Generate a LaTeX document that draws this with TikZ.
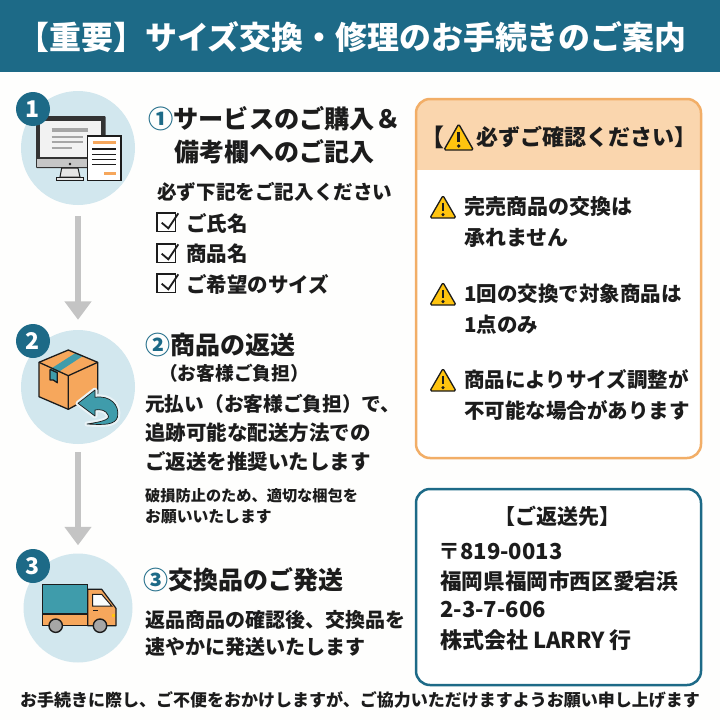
\documentclass[tikz,border=0pt]{standalone}
\usepackage{fontspec}
\setmainfont{Noto Sans CJK JP}
\usetikzlibrary{arrows.meta}
\definecolor{teal1}{HTML}{1D6A87}
\definecolor{circ}{HTML}{D2E7EE}
\definecolor{ink}{HTML}{1C1C1C}
\definecolor{orangeS}{HTML}{F2AE67}
\definecolor{orangeH}{HTML}{FAD6AE}
\definecolor{orangeF}{HTML}{F6A75C}
\definecolor{tealF}{HTML}{3F9CAB}
\definecolor{grayA}{HTML}{C4C4C4}
\definecolor{yel}{HTML}{FFC40F}
\definecolor{paper}{HTML}{FEFEFD}
\tikzset{
 x=1pt,y=-1pt,
 txt/.style={anchor=west,inner sep=0pt,text=ink,font=\bfseries\fontsize{#1}{#1}\selectfont},
 txb/.style={anchor=west,inner sep=0pt,text=ink,font=\bfseries\fontsize{#1}{#1}\selectfont},
 circlebg/.style={circle,fill=circ,inner sep=0pt,minimum size=#1},
 badge/.style={circle,fill=teal1,inner sep=0pt,minimum size=34pt,text=white,font=\bfseries\fontsize{23}{23}\selectfont},
 flow/.style={grayA,line width=5.7pt,-{Triangle[length=18.5pt,width=26pt]}},
 icon/.style={draw=ink,line width=1.3pt,line join=round},
 panel/.style={rounded corners=14pt,line width=2.5pt},
 warnicon/.pic={
  \fill[yel,draw=ink,line width=1.3pt,line join=round,rounded corners=1.5pt] (0,-11.5)--(13,11)--(-13,11)--cycle;
  \draw[ink,line width=2.8pt] (0,-4.5)--(0,4);
  \fill[ink] (0,7.6) circle (1.7pt);
 },
 warnbig/.pic={
  \fill[yel,draw=ink,line width=1.4pt,line join=round,rounded corners=1.5pt] (0,-13)--(14.7,13)--(-14.7,13)--cycle;
  \draw[ink,line width=3pt] (0,-5)--(0,5);
  \fill[ink] (0,9) circle (1.8pt);
 },
 checkicon/.pic={
  \draw[ink,line width=1.6pt] (0,0) rectangle (18.5,18.5);
  \draw[ink,line width=1.8pt,line join=miter] (4.7,9.7)--(11.3,15.3)--(21.3,0.3);
 }
}
\begin{document}
\begin{tikzpicture}
\useasboundingbox (0,0) rectangle (720,720);
\fill[paper] (0,0) rectangle (720,720);
\fill[teal1] (0,0) rectangle (720,72);
\node[anchor=center,inner sep=0pt,text=white,font=\bfseries\fontsize{31.9}{31.9}\selectfont] (title) at (352,37) {【重要】サイズ交換・修理のお手続きのご案内};
% circles
\node[circlebg=114pt] (c1) at (78,148) {};
\node[circlebg=114pt] (c2) at (78,387) {};
\node[circlebg=109pt] (c3) at (78,608) {};
\draw[flow,shorten <=11pt,shorten >=10pt] (c1.south) -- (c2.north);
\draw[flow,shorten <=8pt,shorten >=8pt] (c2.south) -- (c3.north);
% monitor
\fill[rounded corners=1pt,ink!90] (36,116) rectangle (105.7,168);
\fill[white!95!black] (40,120.7) rectangle (101,157);
\fill[gray!45] (37.2,159) rectangle (104.5,167);
\fill[ink] (70,164) circle (1.4pt);
\fill[gray!20,draw=ink,line width=1pt] (61.7,168)--(78,168)--(80,177)--(60,177)--cycle;
\fill[gray!20,draw=ink,line width=1pt] (56.7,177) rectangle (83.3,180.3);
\draw[gray!70,line width=4pt] (51.7,130)--(88.3,130);
\draw[gray!70,line width=2pt] (51.7,136.7)--(83.3,136.7) (51.7,142.3)--(83.3,142.3) (51.7,148.3)--(72,148.3);
\fill[white] (87.3,136) rectangle (121,180.7);
\draw[ink,line width=1.3pt] (87.3,136) rectangle (121,180.7);
\draw[orangeF,line width=2.4pt] (92.7,142.3)--(116,142.3) (104.3,173.3)--(116,173.3);
\draw[ink,line width=1.2pt] (92,149)--(116,149) (92,154.7)--(116,154.7) (92,159.7)--(116,159.7) (92,164.7)--(116,164.7);
% box
\fill[orangeF] (39,362.3)--(68.3,350)--(97.7,362.3)--(97.7,393.3)--(68.3,409.3)--(39,396.7)--cycle;
\fill[tealF] (50,369.3)--(57.3,372.7)--(83.3,355.7)--(76,352.7)--cycle;
\fill[tealF] (50,369.3)--(57.3,372.7)--(57.3,382.7)--(53.3,380)--(50,380)--cycle;
\draw[icon] (39,362.3)--(68.3,350)--(97.7,362.3)--(97.7,393.3)--(68.3,409.3)--(39,396.7)--cycle;
\draw[icon] (39,362.3)--(68.3,375.7)--(97.7,362.3) (68.3,375.7)--(68.3,409.3);
\draw[icon] (50,369.3)--(50,380)--(53.3,380)--(57.3,382.7)--(57.3,372.7)--(50,369.3);
\draw[circ!50!white,line width=5pt,line join=round,fill=tealF] (78,403.3)--(95,390)--(95,397.3).. controls (110,395) and (120,405) .. (117.5,417) .. controls (115,425) and (105,425) .. (87,424) .. controls (100,422) and (111,420) .. (108,415) .. controls (106,410) and (100,409) .. (95,410)--(95,416)--cycle;
\fill[tealF,draw=ink,line width=.7pt,line join=round] (78,403.3)--(95,390)--(95,397.3).. controls (110,395) and (120,405) .. (117.5,417) .. controls (115,425) and (105,425) .. (87,424) .. controls (100,422) and (111,420) .. (108,415) .. controls (106,410) and (100,409) .. (95,410)--(95,416)--cycle;
% truck
\fill[tealF,draw=ink,line width=1.2pt] (42.3,584.3) rectangle (87.7,614);
\fill[orangeF,draw=ink,line width=1.2pt] (42.3,614) rectangle (87.7,625.7);
\fill[orangeF,draw=ink,line width=1.2pt,line join=round] (87.7,589.3)--(101.7,589.3)--(116,608.3)--(116,625.7)--(87.7,625.7)--cycle;
\fill[white!90!circ,draw=ink,line width=1pt] (92.7,594.3)--(101.7,594.3)--(111.7,606)--(92.7,606)--cycle;
\draw[ink,line width=1.2pt] (93,610.7)--(98,610.7);
\fill[yel] (111.5,613.5) rectangle (114.8,617);
\fill[gray!70,draw=ink,line width=1.4pt] (55.7,625.7) circle (6.7pt) (100,625.7) circle (6.7pt);
% badges
\node[badge] (b1) at (33,109) {1};
\node[badge] (b2) at (33,341) {2};
\node[badge] (b3) at (33,566) {3};
% texts step 1
\node[txb=25.2] (t1a) at (148,119) {\textcolor{teal1}{①}サービスのご購入＆};
\node[txb=25] (t1b) at (174,152) {備考欄へのご記入};
\node[txt=19.6] (t1c) at (157,192) {必ず下記をご記入ください};
\pic at (157,213) {checkicon};
\pic at (157,244) {checkicon};
\pic at (157,274) {checkicon};
\node[txt=20.5] (t1d) at (186,223) {ご氏名};
\node[txt=20.5] (t1e) at (186,254) {商品名};
\node[txt=20.5] (t1f) at (186,284) {ご希望のサイズ};
% step 2
\node[txb=25] (t2a) at (145,345) {\textcolor{teal1}{②}商品の返送};
\node[txt=18.7] (t2b) at (159,373) {（お客様ご負担）};
\node[txt=19.7] (t2c) at (145,404) {元払い（お客様ご負担）で、};
\node[txt=20.5] (t2d) at (145,433) {追跡可能な配送方法での};
\node[txt=20.5] (t2e) at (145,461) {ご返送を推奨いたします};
\node[txt=15.2] (t2f) at (145,496) {破損防止のため、適切な梱包を};
\node[txt=15.8] (t2g) at (145,517) {お願いいたします};
% step 3
\node[txb=25] (t3a) at (143,580) {\textcolor{teal1}{③}交換品のご発送};
\node[txt=20] (t3b) at (145,620) {返品商品の確認後、交換品を};
\node[txt=20] (t3c) at (145,647) {速やかに発送いたします};
% orange panel
\begin{scope}
\clip[rounded corners=14pt] (416,99) rectangle (701,458);
\fill[white] (416,99) rectangle (701,458);
\fill[orangeH] (416,99) rectangle (701,170);
\end{scope}
\draw[panel,draw=orangeS] (416,99) rectangle (701,458);
\node[txb=24] (p1a) at (420,137) {【};
\pic at (458.7,137) {warnbig};
\node[txb=22] (p1b) at (476,137) {必ずご確認ください】};
\pic at (443,207) {warnicon};
\pic at (443,294) {warnicon};
\pic at (443,380) {warnicon};
\node[txt=21] (p2a) at (464,207) {完売商品の交換は};
\node[txt=21] (p2b) at (464,238) {承れません};
\node[txt=20.5] (p3a) at (464,294) {1回の交換で対象商品は};
\node[txt=20.5] (p3b) at (464,325) {1点のみ};
\node[txt=20.5] (p4a) at (464,380) {商品によりサイズ調整が};
\node[txt=20.5] (p4b) at (464,411) {不可能な場合があります};
% address
\fill[white,draw=teal1,panel] (416,489) rectangle (701,685);
\node[txb=21,anchor=center] (a0) at (557,516) {【ご返送先】};
\node[txt=22] (a1) at (438,552) {〒819-0013};
\node[txt=21.6] (a2) at (440,581) {福岡県福岡市西区愛宕浜};
\node[txt=22] (a3) at (440,610) {2-3-7-606};
\node[txt=22] (a4) at (440,640) {株式会社 LARRY 行};
\node[txt=17,anchor=center] (foot) at (360,700) {お手続きに際し、ご不便をおかけしますが、ご協力いただけますようお願い申し上げます};
\end{tikzpicture}
\end{document}
